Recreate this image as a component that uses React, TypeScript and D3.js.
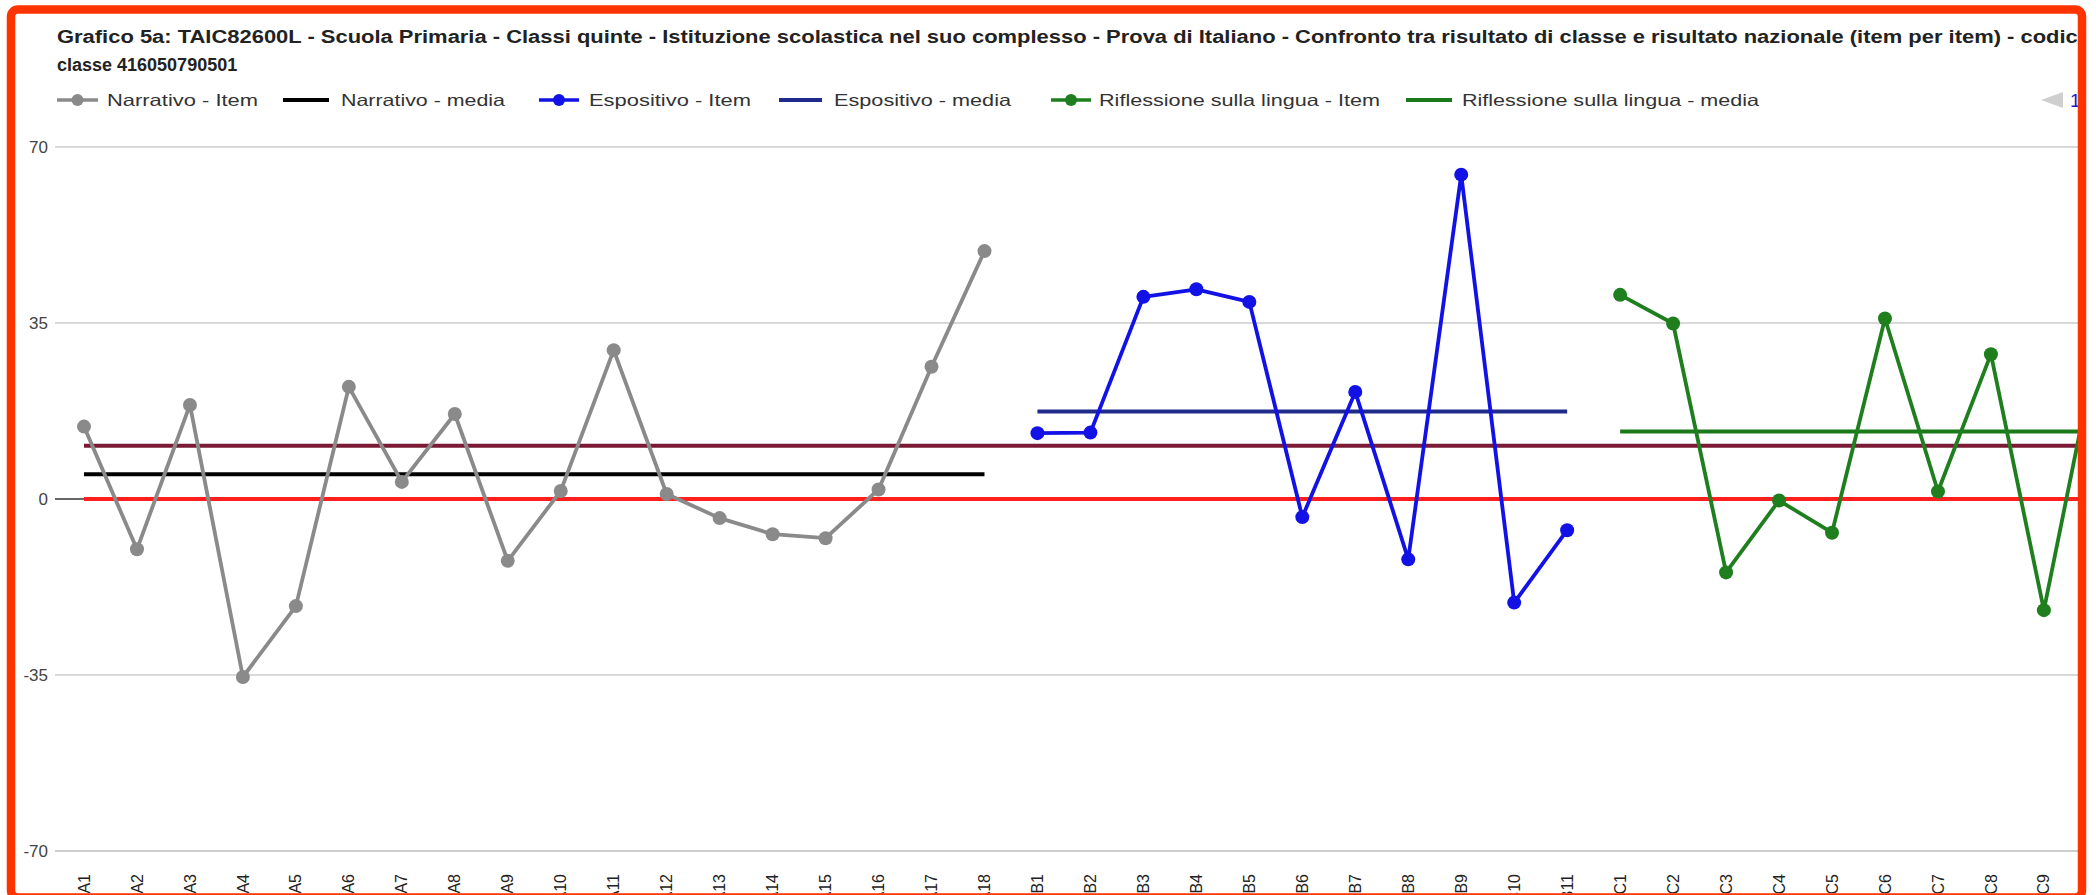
import React from 'react';
import * as d3 from 'd3';

// ---------- DATA ----------
const narrCats = ['A1','A2','A3','A4','A5','A6','A7','A8','A9','A10','A11','A12','A13','A14','A15','A16','A17','A18'];
const espCats = ['B1','B2','B3','B4','B5','B6','B7','B8','B9','B10','B11'];
const rifCats = ['C1','C2','C3','C4','C5','C6','C7','C8','C9','C10'];

const narrItem = [14.4, -10.0, 18.7, -35.4, -21.3, 22.3, 3.4, 16.9, -12.3, 1.6, 29.6, 1.0, -3.8, -7.0, -7.8, 1.9, 26.3, 49.3];
const espItem = [13.1, 13.2, 40.2, 41.7, 39.2, -3.6, 21.3, -12.0, 64.5, -20.6, -6.2];
const rifItem = [40.6, 34.9, -14.6, -0.3, -6.7, 35.9, 1.5, 28.8, -22.1, 30.0];

const narrMedia = 4.9;
const espMedia = 17.4;
const rifMedia = 13.4;
const nationalRef = 10.6;
const zeroRef = 0;

const yTicks = [70, 35, 0, -35, -70];

const titleLines = [
  'Grafico 5a: TAIC82600L - Scuola Primaria - Classi quinte - Istituzione scolastica nel suo complesso - Prova di Italiano - Confronto tra risultato di classe e risultato nazionale (item per item) - codice',
  'classe 416050790501',
];

const legendLabels = [
  'Narrativo - Item',
  'Narrativo - media',
  'Espositivo - Item',
  'Espositivo - media',
  'Riflessione sulla lingua - Item',
  'Riflessione sulla lingua - media',
];

// ---------- STYLE / LAYOUT ----------
const COLORS = {
  narrItem: '#8a8a8a',
  narrMedia: '#000000',
  espItem: '#1212e6',
  espMedia: '#1f2a8a',
  rifItem: '#1f7f1f',
  rifMedia: '#1a7a1a',
  national: '#7a1a35',
  zero: '#ff1f1f',
  border: '#ff3300',
};
const legendColors = [COLORS.narrItem, COLORS.narrMedia, COLORS.espItem, COLORS.espMedia, COLORS.rifItem, COLORS.rifMedia];
const legendHasDot = [true, false, true, false, true, false];
// [lineStart, lineEnd, textStart, textEnd]
const legendLayout = [
  [57, 98, 107, 258],
  [283, 329, 341, 505],
  [539, 579, 589, 751],
  [779, 822, 834, 1011],
  [1051, 1091, 1099, 1380],
  [1406, 1452, 1462, 1759],
];

const FONT = '"Liberation Sans", Arial, Helvetica, sans-serif';

export default function App() {
  const W = 2096;
  const H = 895;
  const cats = [...narrCats, ...espCats, ...rifCats];
  const step = 52.97;
  const x = d3.scalePoint<string>().domain(cats).range([84, 84 + (cats.length - 1) * step]);
  const y = d3.scaleLinear().domain([-70, 70]).range([851, 147]);

  const gridX0 = 55;
  const gridX1 = 2078;

  const line = d3.line<[string, number]>().x((d) => x(d[0]) as number).y((d) => y(d[1]));

  const series = [
    { cats: narrCats, vals: narrItem, color: COLORS.narrItem },
    { cats: espCats, vals: espItem, color: COLORS.espItem },
    { cats: rifCats, vals: rifItem, color: COLORS.rifItem },
  ];

  const medias = [
    { from: narrCats[0], to: narrCats[narrCats.length - 1], v: narrMedia, color: COLORS.narrMedia },
    { from: espCats[0], to: espCats[espCats.length - 1], v: espMedia, color: COLORS.espMedia },
    { from: rifCats[0], to: rifCats[rifCats.length - 1], v: rifMedia, color: COLORS.rifMedia },
  ];

  const firstX = x(cats[0]) as number;
  const lastX = x(cats[cats.length - 1]) as number;

  return (
    <svg
      width={W}
      height={H}
      style={{ position: 'absolute', left: 0, top: 0, background: '#fff' }}
      fontFamily={FONT}
    >
      <defs>
        <clipPath id="inner">
          <rect x={15} y={14} width={2063} height={879.5} />
        </clipPath>
      </defs>
      <rect x={0} y={0} width={W} height={H} fill="#fff" />
      <g clipPath="url(#inner)">
        {/* title */}
        <text x={57} y={43} fontSize={18} fontWeight="bold" fill="#222" textLength={2033} lengthAdjust="spacingAndGlyphs">
          {titleLines[0]}
        </text>
        <text x={57} y={71} fontSize={18} fontWeight="bold" fill="#222">
          {titleLines[1]}
        </text>

        {/* legend */}
        {legendLabels.map((lab, i) => {
          const [l0, l1, t0, t1] = legendLayout[i];
          const cy = 100;
          return (
            <g key={lab}>
              <line x1={l0} x2={l1} y1={cy} y2={cy} stroke={legendColors[i]} strokeWidth={legendHasDot[i] ? 3.5 : 4} />
              {legendHasDot[i] && <circle cx={(l0 + l1) / 2} cy={cy} r={6} fill={legendColors[i]} />}
              <text x={t0} y={cy + 6} fontSize={16.5} fill="#333" textLength={t1 - t0} lengthAdjust="spacingAndGlyphs">
                {lab}
              </text>
            </g>
          );
        })}
        {/* legend paging */}
        <path d="M2041,100 L2063,92 L2063,108 Z" fill="#cfcfcf" />
        <text x={2070} y={107} fontSize={19} fill="#1a1acc">1/2</text>

        {/* gridlines */}
        {yTicks.map((t) => (
          <g key={t}>
            <line
              x1={gridX0}
              x2={gridX1}
              y1={y(t)}
              y2={y(t)}
              stroke={t === 0 ? '#333' : t === -70 ? '#bdbdbd' : '#cccccc'}
              strokeWidth={1.5}
            />
            <text x={48} y={y(t)} dy="0.35em" textAnchor="end" fontSize={17} fill="#444">
              {t}
            </text>
          </g>
        ))}

        {/* reference lines */}
        <line x1={firstX} x2={lastX} y1={y(zeroRef)} y2={y(zeroRef)} stroke={COLORS.zero} strokeWidth={4} />
        <line x1={firstX} x2={lastX} y1={y(nationalRef)} y2={y(nationalRef)} stroke={COLORS.national} strokeWidth={4} />

        {/* media lines */}
        {medias.map((m, i) => (
          <line
            key={i}
            x1={x(m.from) as number}
            x2={m.to === rifCats[rifCats.length - 1] ? gridX1 + 10 : (x(m.to) as number)}
            y1={y(m.v)}
            y2={y(m.v)}
            stroke={m.color}
            strokeWidth={4}
          />
        ))}

        {/* item series */}
        {series.map((s, si) => {
          const pts = s.cats.map((c, i) => [c, s.vals[i]] as [string, number]);
          return (
            <g key={si}>
              <path d={line(pts) as string} fill="none" stroke={s.color} strokeWidth={3.8} strokeLinejoin="round" />
              {pts.map((p) => (
                <circle key={p[0]} cx={x(p[0]) as number} cy={y(p[1])} r={7} fill={s.color} />
              ))}
            </g>
          );
        })}

        {/* x labels */}
        {cats.map((c) => (
          <text
            key={c}
            transform={`translate(${x(c)},874) rotate(-90)`}
            textAnchor="end"
            dy="0.35em"
            fontSize={16}
            fill="#222"
          >
            {c}
          </text>
        ))}
      </g>

      {/* red frame */}
      <rect x={11} y={9.5} width={2071} height={888} rx={7} fill="none" stroke={COLORS.border} strokeWidth={8.5} />
    </svg>
  );
}
